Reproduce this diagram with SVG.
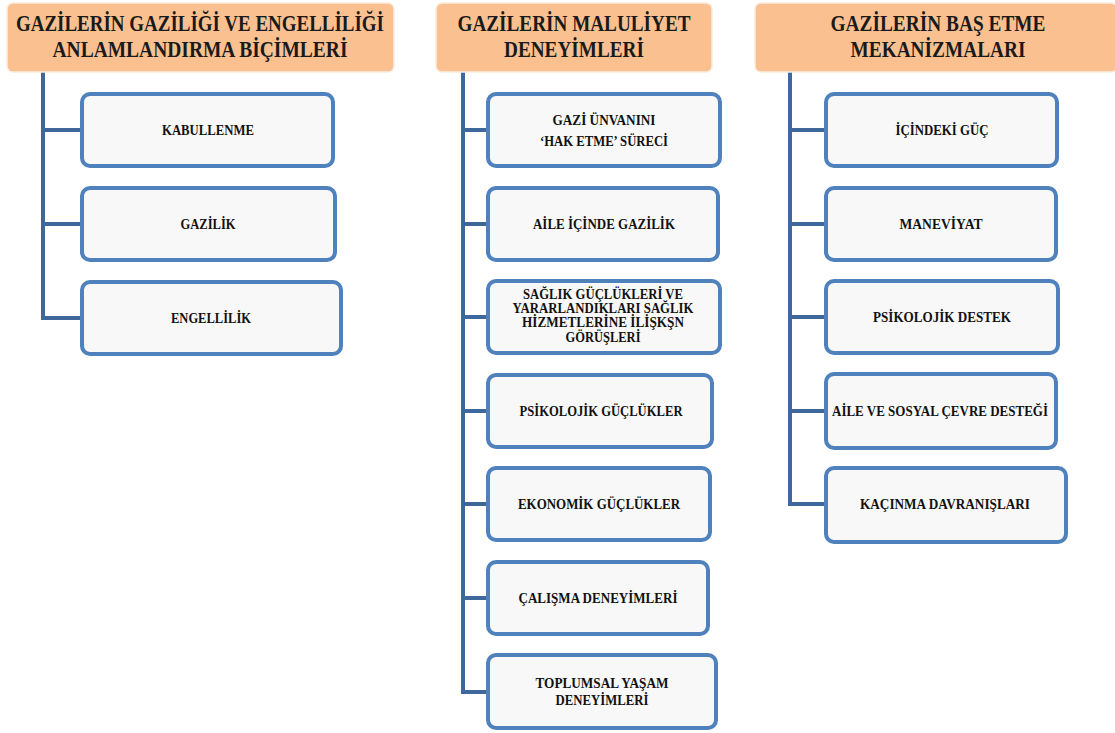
<svg xmlns="http://www.w3.org/2000/svg" width="1115" height="733" viewBox="0 0 1115 733">
<style>
.hdr{fill:#FAC090;stroke:#FDEBDD;stroke-width:1.5}
.ht{font-family:"Liberation Serif","DejaVu Serif",serif;font-weight:bold;font-size:23px;fill:#1a1a1a;text-anchor:middle}
.box{fill:#F8F8F8;stroke:#4F81BD;stroke-width:4}
.bt{font-family:"Liberation Serif","DejaVu Serif",serif;font-weight:bold;font-size:15px;fill:#111;text-anchor:middle}
.bs{font-size:14px}
.con{fill:none;stroke:#3E679B;stroke-width:4;stroke-linejoin:miter}
</style>
<rect width="1115" height="733" fill="#FFFFFF"/>
<g id="connectors">
<path class="con" d="M43 72 V318 H82 M43 130 H82 M43 224 H82"/>
<path class="con" d="M463 72 V692 H488 M463 130 H488 M463 224 H488 M463 317 H488 M463 411 H488 M463 504 H488 M463 598 H488"/>
<path class="con" d="M790 72 V504 H826 M790 130 H826 M790 224 H826 M790 317 H826 M790 411 H826"/>
</g>
<g id="h1"><rect class="hdr" x="7" y="3" width="387" height="69" rx="6"/>
<text class="ht" x="200" y="31" textLength="368" lengthAdjust="spacingAndGlyphs">GAZİLERİN GAZİLİĞİ VE ENGELLİLİĞİ</text>
<text class="ht" x="200" y="57" textLength="295" lengthAdjust="spacingAndGlyphs">ANLAMLANDIRMA BİÇİMLERİ</text></g>
<g id="h2"><rect class="hdr" x="436" y="3" width="276" height="69" rx="6"/>
<text class="ht" x="574" y="31" textLength="233" lengthAdjust="spacingAndGlyphs">GAZİLERİN MALULİYET</text>
<text class="ht" x="574" y="57" textLength="140" lengthAdjust="spacingAndGlyphs">DENEYİMLERİ</text></g>
<g id="h3"><rect class="hdr" x="755" y="3" width="362" height="69" rx="6"/>
<text class="ht" x="938" y="31" textLength="215" lengthAdjust="spacingAndGlyphs">GAZİLERİN BAŞ ETME</text>
<text class="ht" x="938" y="57" textLength="175" lengthAdjust="spacingAndGlyphs">MEKANİZMALARI</text></g>

<g id="n1"><rect class="box" x="82" y="94" width="251" height="72" rx="8"/>
<text class="bt" x="208" y="135" textLength="92" lengthAdjust="spacingAndGlyphs">KABULLENME</text></g>
<g id="n2"><rect class="box" x="82" y="188" width="253" height="72" rx="8"/>
<text class="bt" x="208" y="229" textLength="55" lengthAdjust="spacingAndGlyphs">GAZİLİK</text></g>
<g id="n3"><rect class="box" x="82" y="282" width="259" height="72" rx="8"/>
<text class="bt" x="211" y="323" textLength="80" lengthAdjust="spacingAndGlyphs">ENGELLİLİK</text></g>

<g id="n4"><rect class="box" x="488" y="94" width="232" height="72" rx="8"/>
<text class="bt" x="604" y="125" textLength="103" lengthAdjust="spacingAndGlyphs">GAZİ ÜNVANINI</text>
<text class="bt" x="604" y="146" textLength="128" lengthAdjust="spacingAndGlyphs">‘HAK ETME’ SÜRECİ</text></g>
<g id="n5"><rect class="box" x="488" y="188" width="230" height="72" rx="8"/>
<text class="bt" x="604" y="229" textLength="142" lengthAdjust="spacingAndGlyphs">AİLE İÇİNDE GAZİLİK</text></g>
<g id="n6"><rect class="box" x="488" y="281" width="232" height="72" rx="8"/>
<text class="bt bs" x="603" y="299" textLength="160" lengthAdjust="spacingAndGlyphs">SAĞLIK GÜÇLÜKLERİ VE</text>
<text class="bt bs" x="603" y="313" textLength="181" lengthAdjust="spacingAndGlyphs">YARARLANDIKLARI SAĞLIK</text>
<text class="bt bs" x="603" y="327" textLength="162" lengthAdjust="spacingAndGlyphs">HİZMETLERİNE İLİŞKŞN</text>
<text class="bt bs" x="603" y="342" textLength="75" lengthAdjust="spacingAndGlyphs">GÖRÜŞLERİ</text></g>
<g id="n7"><rect class="box" x="488" y="375" width="224" height="72" rx="8"/>
<text class="bt" x="601" y="416" textLength="163" lengthAdjust="spacingAndGlyphs">PSİKOLOJİK GÜÇLÜKLER</text></g>
<g id="n8"><rect class="box" x="488" y="468" width="222" height="72" rx="8"/>
<text class="bt" x="599" y="509" textLength="162" lengthAdjust="spacingAndGlyphs">EKONOMİK GÜÇLÜKLER</text></g>
<g id="n9"><rect class="box" x="488" y="562" width="220" height="72" rx="8"/>
<text class="bt" x="598" y="603" textLength="159" lengthAdjust="spacingAndGlyphs">ÇALIŞMA DENEYİMLERİ</text></g>
<g id="n10"><rect class="box" x="488" y="655" width="228" height="73" rx="8"/>
<text class="bt" x="602" y="688" textLength="133" lengthAdjust="spacingAndGlyphs">TOPLUMSAL YAŞAM</text>
<text class="bt" x="602" y="705" textLength="93" lengthAdjust="spacingAndGlyphs">DENEYİMLERİ</text></g>

<g id="n11"><rect class="box" x="826" y="94" width="231" height="72" rx="8"/>
<text class="bt" x="942" y="135" textLength="93" lengthAdjust="spacingAndGlyphs">İÇİNDEKİ GÜÇ</text></g>
<g id="n12"><rect class="box" x="826" y="188" width="230" height="72" rx="8"/>
<text class="bt" x="941" y="229" textLength="83" lengthAdjust="spacingAndGlyphs">MANEVİYAT</text></g>
<g id="n13"><rect class="box" x="826" y="281" width="232" height="72" rx="8"/>
<text class="bt" x="942" y="322" textLength="138" lengthAdjust="spacingAndGlyphs">PSİKOLOJİK DESTEK</text></g>
<g id="n14"><rect class="box" x="826" y="374" width="230" height="74" rx="8"/>
<text class="bt" x="940" y="416" textLength="216" lengthAdjust="spacingAndGlyphs">AİLE VE SOSYAL ÇEVRE DESTEĞİ</text></g>
<g id="n15"><rect class="box" x="826" y="468" width="240" height="74" rx="8"/>
<text class="bt" x="945" y="509" textLength="170" lengthAdjust="spacingAndGlyphs">KAÇINMA DAVRANIŞLARI</text></g>
</svg>
